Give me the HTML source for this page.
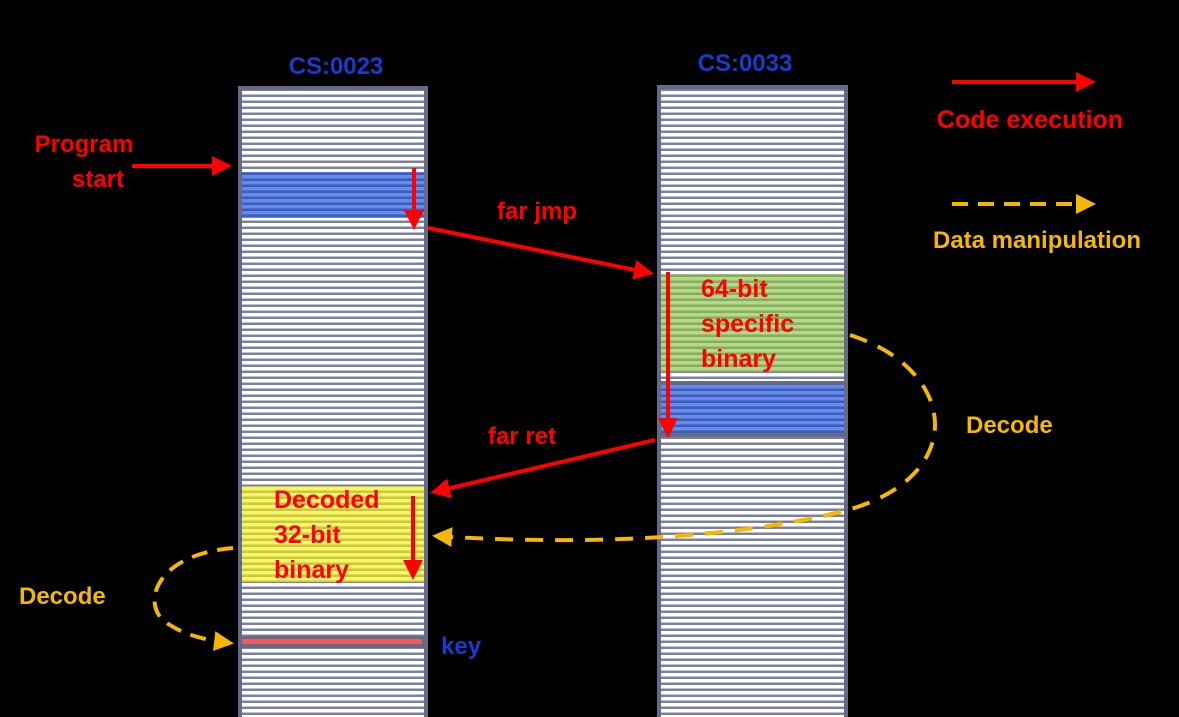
<!DOCTYPE html>
<html><head><style>
html,body{margin:0;padding:0;background:#000;}
svg{display:block}
text{font-family:"Liberation Sans",Arial,sans-serif;font-weight:bold;}
</style></head><body>
<svg width="1179" height="717" viewBox="0 0 1179 717" xmlns="http://www.w3.org/2000/svg">
<defs>
<pattern id="ws" width="10" height="6" patternUnits="userSpaceOnUse"><rect width="10" height="6" fill="#7b809f"/><rect y="1" width="10" height="3.5" fill="#fff"/></pattern>
<pattern id="bs" width="10" height="6" patternUnits="userSpaceOnUse"><rect width="10" height="6" fill="#3a5ec0"/><rect y="1" width="10" height="3.5" fill="#6a8ae8"/></pattern>
<pattern id="gs" width="10" height="6" patternUnits="userSpaceOnUse"><rect width="10" height="6" fill="#86ac5c"/><rect y="1" width="10" height="3.5" fill="#b3d88c"/></pattern>
<pattern id="ys" width="10" height="6" patternUnits="userSpaceOnUse"><rect width="10" height="6" fill="#c8c83a"/><rect y="1" width="10" height="3.5" fill="#f6f66a"/></pattern>
<marker id="ar" markerWidth="5" markerHeight="5" refX="4" refY="2.5" orient="auto" markerUnits="strokeWidth"><path d="M0,0 L5,2.5 L0,5z" fill="#f00"/></marker>
<marker id="ay" markerWidth="5" markerHeight="5" refX="4" refY="2.5" orient="auto" markerUnits="strokeWidth"><path d="M0,0 L5,2.5 L0,5z" fill="#f5b700"/></marker>
</defs>
<rect x="238" y="86" width="190" height="631" fill="#656a88"/>
<rect x="242" y="90" width="182" height="627" fill="url(#ws)"/>
<rect x="242" y="172" width="182" height="46" fill="url(#bs)"/>
<rect x="242" y="486" width="182" height="96" fill="url(#ys)"/>
<rect x="238" y="636" width="190" height="12" fill="#656a88"/>
<rect x="242" y="639" width="180" height="5" fill="#f25a5a"/>
<rect x="657" y="85" width="191" height="632" fill="#656a88"/>
<rect x="661" y="89" width="183" height="628" fill="url(#ws)"/>
<rect x="661" y="274" width="183" height="98" fill="url(#gs)"/>
<rect x="657" y="381" width="191" height="56" fill="#656a88"/>
<rect x="661" y="385" width="183" height="48" fill="url(#bs)"/>
<text x="336" y="74" font-size="24" fill="#1a3ad0" text-anchor="middle">CS:0023</text>
<text x="745" y="71" font-size="24" fill="#1a3ad0" text-anchor="middle">CS:0033</text>
<line x1="952" y1="82" x2="1092" y2="82" stroke="#f00" stroke-width="4" marker-end="url(#ar)"/>
<text x="1030" y="128" font-size="25" fill="#f00" text-anchor="middle">Code execution</text>
<line x1="952" y1="204" x2="1092" y2="204" stroke="#f5b700" stroke-width="4" stroke-dasharray="16,10" marker-end="url(#ay)"/>
<text x="1037" y="248" font-size="24" fill="#f5b700" text-anchor="middle">Data manipulation</text>
<text x="84" y="152" font-size="24" fill="#f00" text-anchor="middle">Program</text>
<text x="98" y="187" font-size="24" fill="#f00" text-anchor="middle">start</text>
<line x1="132" y1="166" x2="228" y2="166" stroke="#f00" stroke-width="4" marker-end="url(#ar)"/>
<line x1="414" y1="168" x2="414" y2="226" stroke="#f00" stroke-width="4" marker-end="url(#ar)"/>
<line x1="428" y1="228" x2="650" y2="273" stroke="#f00" stroke-width="4" marker-end="url(#ar)"/>
<text x="537" y="219" font-size="24" fill="#f00" text-anchor="middle">far jmp</text>
<line x1="668" y1="272" x2="668" y2="434" stroke="#f00" stroke-width="4" marker-end="url(#ar)"/>
<line x1="655" y1="440" x2="434" y2="492" stroke="#f00" stroke-width="4" marker-end="url(#ar)"/>
<text x="522" y="444" font-size="24" fill="#f00" text-anchor="middle">far ret</text>
<line x1="413" y1="496" x2="413" y2="576" stroke="#f00" stroke-width="4" marker-end="url(#ar)"/>
<text x="701" y="297" font-size="25" fill="#f00">64-bit</text>
<text x="701" y="332" font-size="25" fill="#f00">specific</text>
<text x="701" y="367" font-size="25" fill="#f00">binary</text>
<text x="274" y="508" font-size="25" fill="#f00">Decoded</text>
<text x="274" y="543" font-size="25" fill="#f00">32-bit</text>
<text x="274" y="578" font-size="25" fill="#f00">binary</text>
<text x="441" y="654" font-size="24" fill="#1a3ad0">key</text>
<path d="M850,335 C960,370 970,480 840,512 C760,532 620,548 436,536" fill="none" stroke="#f5b700" stroke-width="4" stroke-dasharray="18,12" marker-end="url(#ay)"/>
<text x="966" y="433" font-size="24" fill="#f5b700">Decode</text>
<path d="M233,548 C150,555 140,610 170,625 C185,635 205,640 230,643" fill="none" stroke="#f5b700" stroke-width="4" stroke-dasharray="16,10" marker-end="url(#ay)"/>
<text x="19" y="604" font-size="24" fill="#f5b700">Decode</text>
</svg>
</body></html>
